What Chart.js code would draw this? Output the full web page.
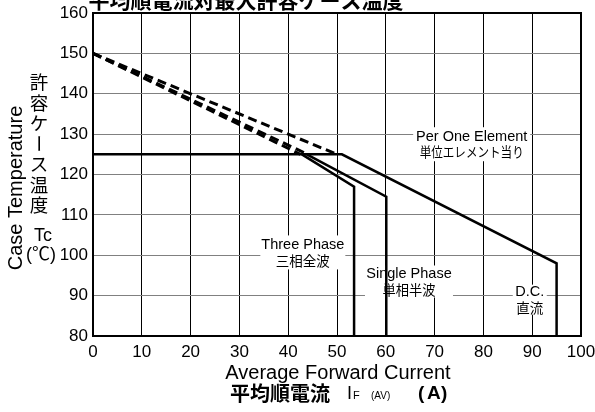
<!DOCTYPE html>
<html>
<head>
<meta charset="utf-8">
<script src="https://cdn.jsdelivr.net/npm/chart.js@4.4.1/dist/chart.umd.min.js"></script>
<style>
  html, body { margin: 0; padding: 0; background: #fff; }
</style>
</head>
<body>
<canvas id="c" width="595" height="412"></canvas>
<script>
// ---- data ----
const xTicks = [0, 10, 20, 30, 40, 50, 60, 70, 80, 90, 100];
const yTicks = [80, 90, 100, 110, 120, 130, 140, 150, 160];

// solid derating curves (A, degC)
const dcSolid = [[0, 125], [51, 125], [95, 98], [95, 80]];
const threeSolid = [[42.8, 125], [53.5, 117], [53.5, 80]];
const singleSolid = [[43.8, 125], [60.1, 114.5], [60.1, 80]];

// dashed extensions up to 150 degC at 0 A
const dcDashed = [[0, 150], [50, 125]];
const threeDashed = [[0, 150], [42.5, 125]];
const singleDashed = [[0, 150], [44, 125]];

const curveLabels = [
  ["Per One Element", "単位エレメント当り"],
  ["Three Phase", "三相全波"],
  ["Single Phase", "単相半波"],
  ["D.C.", "直流"]
];

const FONT = "'Liberation Sans', Arial, 'Noto Sans CJK JP', sans-serif";
const TICKFONT = "'Liberation Sans Narrow', 'Liberation Sans', Arial, sans-serif";
const JFONT = "'Noto Sans CJK JP', sans-serif";

const toXY = arr => arr.map(p => ({ x: p[0], y: p[1] }));

function lineSet(pts, dashed) {
  return {
    data: toXY(pts),
    showLine: true,
    pointRadius: 0,
    borderColor: "#000",
    borderWidth: dashed ? 3 : 2.5,
    borderDash: dashed ? [9, 5] : [],
    borderCapStyle: "butt",
    borderJoinStyle: "miter",
    tension: 0
  };
}

// white boxes + two-line labels (centres in data units)
const labelBoxes = [
  { x: 77.6, y: 127.5, w: 117, h: 34, jw: 104 },
  { x: 43.0, y: 100.7, w: 85, h: 34, jw: 54 },
  { x: 64.75, y: 93.5, w: 88, h: 32, jw: 53 },
  { x: 89.5, y: 89.0, w: 34, h: 30, jw: 27 }
];

const decor = {
  id: "decor",
  beforeDatasetsDraw(chart) {
    const { ctx, scales } = chart;
    ctx.save();
    labelBoxes.forEach((b, i) => {
      const cx = scales.x.getPixelForValue(b.x);
      const cy = scales.y.getPixelForValue(b.y);
      ctx.fillStyle = "#fff";
      ctx.fillRect(cx - b.w / 2, cy - b.h / 2, b.w, b.h);
      ctx.fillStyle = "#000";
      ctx.textAlign = "center";
      ctx.textBaseline = "middle";
      ctx.font = "14.5px " + FONT;
      ctx.fillText(curveLabels[i][0], cx, cy - 7.5);
      ctx.font = "13.5px " + JFONT;
      ctx.fillText(curveLabels[i][1], cx, cy + 8, b.jw);
    });
    ctx.restore();
  },
  afterDraw(chart) {
    const { ctx, chartArea: a } = chart;
    ctx.save();
    // frame
    ctx.strokeStyle = "#000";
    ctx.lineWidth = 2;
    ctx.strokeRect(a.left, a.top, a.right - a.left, a.bottom - a.top);

    ctx.fillStyle = "#000";
    // title (cut off at the top like the source)
    ctx.font = "bold 21px " + JFONT;
    ctx.textAlign = "center";
    ctx.textBaseline = "alphabetic";
    ctx.fillText("平均順電流対最大許容ケース温度", 246, 8);

    // y axis title
    ctx.save();
    ctx.translate(16, 188);
    ctx.rotate(-Math.PI / 2);
    ctx.font = "20px " + FONT;
    ctx.textBaseline = "middle";
    ctx.fillText("Case Temperature", 0, 0);
    ctx.restore();

    const vChars = ["許", "容", "ケ", "ー", "ス", "温", "度"];
    ctx.font = "18.5px " + JFONT;
    ctx.textBaseline = "middle";
    vChars.forEach((ch, i) => {
      const y = 82 + i * 20.5;
      if (ch === "ー") {
        ctx.save();
        ctx.translate(39, y);
        ctx.rotate(Math.PI / 2);
        ctx.fillText(ch, 0, 0);
        ctx.restore();
      } else {
        ctx.fillText(ch, 39, y);
      }
    });
    ctx.font = "18px " + FONT;
    ctx.fillText("Tc", 43, 236);
    ctx.fillText("(℃)", 41, 255);

    // x axis title
    ctx.font = "20px " + FONT;
    ctx.fillText("Average Forward Current", 338, 373);

    ctx.textAlign = "left";
    ctx.font = "bold 20px " + JFONT;
    ctx.fillText("平均順電流", 230, 393);
    ctx.font = "18px " + FONT;
    ctx.fillText("I", 347, 394);
    ctx.font = "11px " + FONT;
    ctx.fillText("F", 353, 396);
    ctx.font = "10px " + FONT;
    ctx.fillText("(AV)", 371, 396);
    ctx.font = "bold 19px " + FONT;
    ctx.fillText("(", 418, 394);
    ctx.fillText("A", 427, 394);
    ctx.fillText(")", 441, 394);
    ctx.restore();
  }
};

new Chart(document.getElementById("c"), {
  type: "scatter",
  data: {
    datasets: [
      lineSet(dcSolid, false),
      lineSet(threeSolid, false),
      lineSet(singleSolid, false),
      lineSet(dcDashed, true),
      lineSet(threeDashed, true),
      lineSet(singleDashed, true)
    ]
  },
  options: {
    responsive: false,
    animation: false,
    devicePixelRatio: 1,
    layout: { padding: { top: 13, right: 14, left: 0, bottom: 0 } },
    plugins: { legend: { display: false }, tooltip: { enabled: false } },
    scales: {
      x: {
        type: "linear",
        min: xTicks[0],
        max: xTicks[xTicks.length - 1],
        afterBuildTicks: s => { s.ticks = xTicks.map(v => ({ value: v })); },
        afterFit: s => { s.height = 76; s.paddingLeft = 0; s.paddingRight = 0; },
        ticks: { color: "#000", font: { size: 17, family: TICKFONT }, padding: 6, maxRotation: 0 },
        grid: { color: "#000", lineWidth: 1, drawTicks: false },
        border: { color: "#000", width: 2 }
      },
      y: {
        min: yTicks[0],
        max: yTicks[yTicks.length - 1],
        afterBuildTicks: s => { s.ticks = yTicks.map(v => ({ value: v })); },
        afterFit: s => { s.width = 93; s.paddingTop = 0; s.paddingBottom = 0; },
        ticks: { color: "#000", font: { size: 17, family: TICKFONT }, padding: 5 },
        grid: { color: "#808080", lineWidth: 1, drawTicks: false },
        border: { color: "#000", width: 2 }
      }
    }
  },
  plugins: [decor]
});
</script>
</body>
</html>
